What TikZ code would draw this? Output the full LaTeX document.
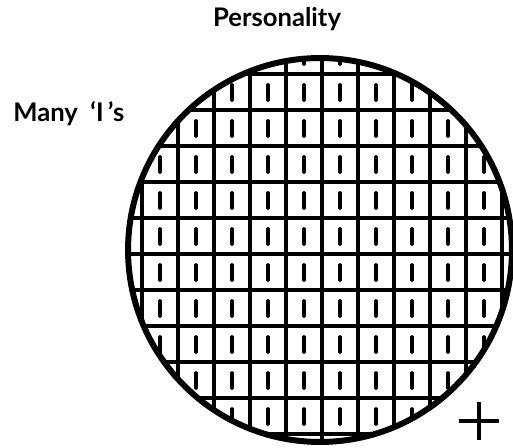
\documentclass[tikz,border=0pt]{standalone}
\usepackage{fontspec}
\setmainfont{Lato}
\begin{document}
\begin{tikzpicture}[x=0.02cm, y=-0.02cm, font=\fontsize{14.6}{17}\selectfont\bfseries, grid/.style={line width=1.9pt}, bar/.style={line width=2.1pt, line cap=round}]
	\useasboundingbox (0,0) rectangle (513,448);
	\coordinate (C) at (320,250);
	\node[anchor=base] (title) at (277,27) {Personality};
	\node[anchor=base west, inner sep=0pt] (many) at (13,122) {Many\ \ ‘I\,’s};
	\begin{scope}
		\clip (C) circle[radius=3.84cm];
		\foreach \k in {0,...,10}
			\draw[grid] (142+36*\k,40) -- (142+36*\k,460);
		\foreach \j in {-5,...,5}
			\draw[grid] (110,254+36*\j) -- (530,254+36*\j);
		\foreach \k in {0,...,11}
			\foreach \j in {-6,...,5}
				\draw[bar] (124+36*\k,229+36*\j) -- (124+36*\k,244+36*\j);
	\end{scope}
	\draw[line width=3.4pt] (C) circle[radius=3.84cm];
	\coordinate (plus) at (479,421);
	\draw[line width=2.3pt] (plus) ++(-20,0) -- ++(40,0) (plus) ++(0,-19) -- ++(0,38);
\end{tikzpicture}
\end{document}
